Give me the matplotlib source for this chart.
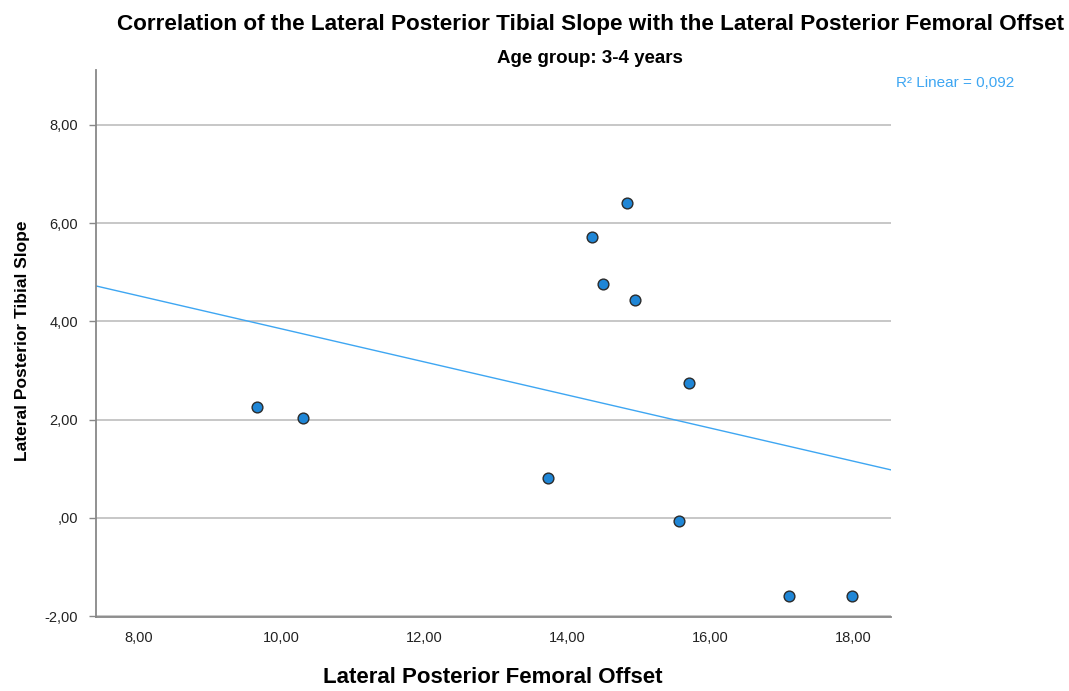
import numpy as np
import matplotlib.pyplot as plt

# femoral offset (x) vs tibial slope (y), age group 3-4 years
femoral_offset = [9.65, 10.30, 13.73, 14.34, 14.50, 14.84, 14.94, 15.70, 15.56, 17.10, 17.99]
tibial_slope = [2.26, 2.04, 0.81, 5.72, 4.77, 6.41, 4.43, 2.75, -0.06, -1.59, -1.59]
x_ticks = [8, 10, 12, 14, 16, 18]
y_ticks = [-2, 0, 2, 4, 6, 8]
r2_label = 'R\u00b2 Linear = 0,092'

plt.rcParams['font.family'] = ['Liberation Sans', 'DejaVu Sans']


def spss_num(v):
    # SPSS style: comma decimal, no leading zero
    s = '%.2f' % v
    if s.startswith('0.'):
        s = s[1:]
    return s.replace('.', ',')


x = np.array(femoral_offset)
y = np.array(tibial_slope)
slope, intercept = np.polyfit(x, y, 1)

fig = plt.figure(figsize=(10.69, 6.91), dpi=100)
ax = fig.add_axes([0.0898, 0.107, 0.7437, 0.7917])

xmin, xmax = 7.40, 18.53
ax.set_xlim(xmin, xmax)
ax.set_ylim(-2.02, 9.12)

for t in y_ticks:
    ax.axhline(t, color='#bdbdbd', lw=1.2, zorder=0)

xs = np.array([xmin, xmax])
ax.plot(xs, intercept + slope * xs, color='#3ea6f2', lw=1.0, zorder=2)
ax.scatter(x, y, s=60, facecolor='#1f86d6', edgecolor='#2b2b2b', linewidth=1.0, zorder=3)

ax.set_xticks(x_ticks)
ax.set_xticklabels([spss_num(v) for v in x_ticks])
ax.set_yticks(y_ticks)
ax.set_yticklabels([spss_num(v) for v in y_ticks])
ax.tick_params(axis='x', length=0, pad=10, labelsize=10.5, colors='#222222')
ax.tick_params(axis='y', length=5, width=1, color='#888888', pad=8, labelsize=10.5, labelcolor='#222222')

for side in ['top', 'right']:
    ax.spines[side].set_visible(False)
for side in ['left', 'bottom']:
    ax.spines[side].set_color('#888888')
    ax.spines[side].set_linewidth(1.3)

fig.text(0.4612, 0.020, 'Lateral Posterior Femoral Offset', ha='center', va='center',
         fontsize=16, fontweight='bold')
fig.text(0.0206, 0.507, 'Lateral Posterior Tibial Slope', ha='center', va='center',
         rotation=90, fontsize=12.5, fontweight='bold')

fig.text(0.552, 0.965, 'Correlation of the Lateral Posterior Tibial Slope with the Lateral Posterior Femoral Offset',
         ha='center', va='center', fontsize=16.2, fontweight='bold')
fig.text(0.552, 0.916, 'Age group: 3-4 years', ha='center', va='center',
         fontsize=13.5, fontweight='bold')
fig.text(0.838, 0.880, r2_label, ha='left', va='center', fontsize=11, color='#3ea6f2')

fig.savefig('out.png', dpi=100)
